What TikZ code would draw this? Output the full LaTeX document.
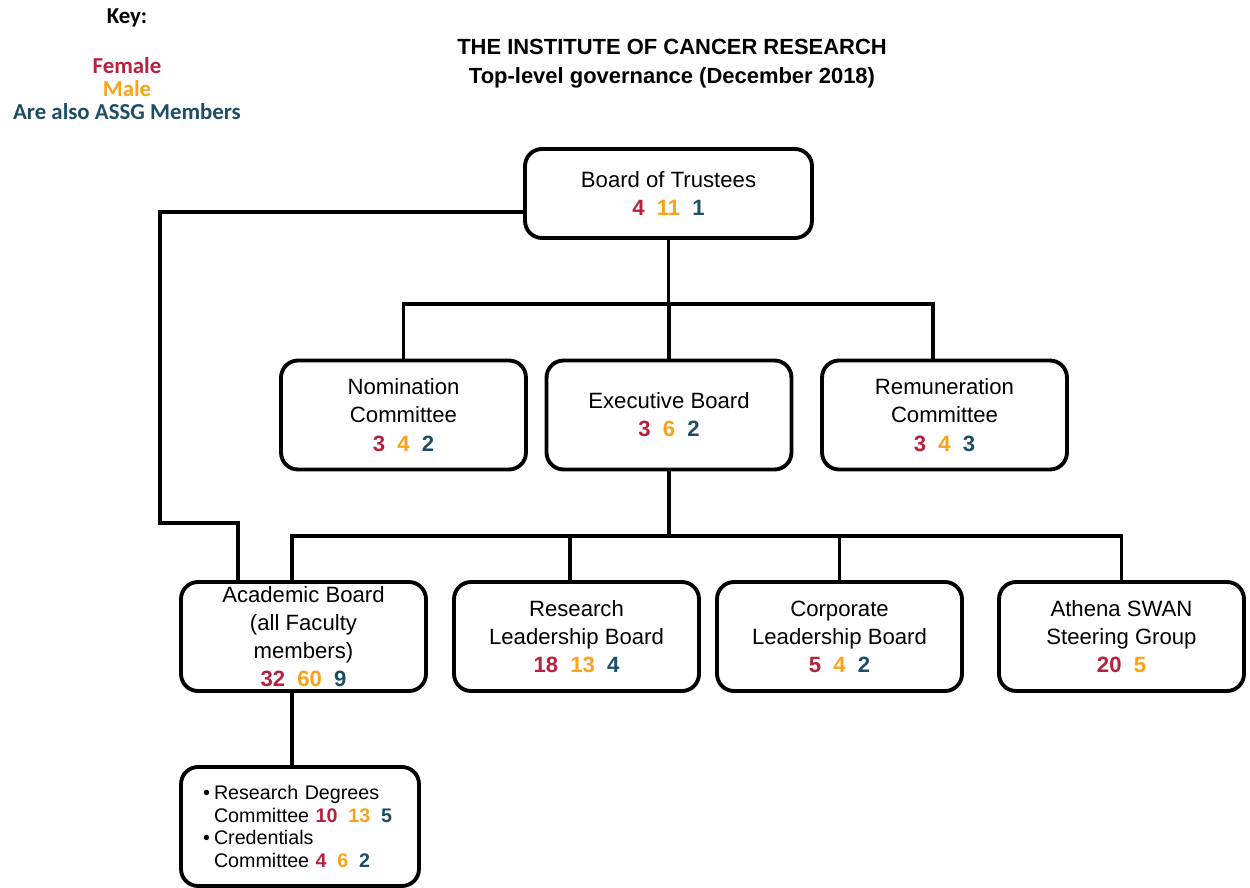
\documentclass[tikz,border=0pt]{standalone}
\usepackage{fontspec}
\setmainfont{Liberation Sans}
\newfontfamily\keyfont{Carlito}
\definecolor{fem}{HTML}{B5213F}
\definecolor{mal}{HTML}{F8A31B}
\definecolor{assg}{HTML}{1D4E66}
\newcommand{\nums}[3]{\textbf{\textcolor{fem}{#1}\hspace{0.55em}\textcolor{mal}{#2}\hspace{0.55em}\textcolor{assg}{#3}}}
\newcommand{\numstwo}[2]{\textbf{\textcolor{fem}{#1}\hspace{0.55em}\textcolor{mal}{#2}}}
\begin{document}
\begin{tikzpicture}[x=0.02cm,y=-0.02cm,
  box/.style={draw,line width=2.2pt,rounded corners=0.34cm,minimum width=4.9cm,minimum height=2.18cm,align=center,inner sep=0pt,font=\fontsize{12.6}{16}\selectfont},
  conn/.style={line width=2.2pt},
  keytxt/.style={font=\keyfont\bfseries\fontsize{13}{13}\selectfont,inner sep=0pt}]
\useasboundingbox (0,0) rectangle (1250,888);

% key
\node[keytxt] (key) at (127,18) {Key:};
\node[keytxt,text=fem] (kf) at (127,66) {Female};
\node[keytxt,text=mal] (km) at (127,89) {Male};
\node[keytxt,text=assg] (ka) at (127,112) {Are also ASSG Members};

% title
\node[font=\bfseries\fontsize{12.5}{16.5}\selectfont,align=center,inner sep=0pt] (title) at (672,63.5)
  {THE INSTITUTE OF CANCER RESEARCH\\Top-level governance (December 2018)};

% boxes
\node[box,minimum width=5.74cm,minimum height=1.78cm] (bot) at (668.5,193.5) {Board of Trustees\\\nums{4}{11}{1}};
\node[box] (nom) at (403.5,415) {Nomination\\Committee\\\nums{3}{4}{2}};
\node[box] (exec) at (669,415) {Executive Board\\\nums{3}{6}{2}};
\node[box] (rem) at (944.5,415) {Remuneration\\Committee\\\nums{3}{4}{3}};
\node[box] (acad) at (303.5,636.5) {Academic Board\\(all Faculty\\members)\\\nums{32}{60}{9}};
\node[box] (rlb) at (576.5,636.5) {Research\\Leadership Board\\\nums{18}{13}{4}};
\node[box] (clb) at (839.5,636.5) {Corporate\\Leadership Board\\\nums{5}{4}{2}};
\node[box] (ath) at (1121.5,636.5) {Athena SWAN\\Steering Group\\\numstwo{20}{5}};
\node[box,minimum width=4.76cm,minimum height=2.38cm,inner xsep=0.44cm,text width=3.88cm,align=left,font=\fontsize{11.2}{13}\selectfont] (sub) at (300,826.5)
  {\makebox[0.22cm][l]{•}Research Degrees\\\hspace*{0.22cm}Committee \nums{10}{13}{5}\\
   \makebox[0.22cm][l]{•}Credentials\\\hspace*{0.22cm}Committee \nums{4}{6}{2}};

% connectors
\coordinate (b1) at (668,304);
\coordinate (b2) at (668,536);
\coordinate (lc) at (160,523);
\coordinate (remtop) at ([xshift=-0.23cm]rem.north);
\coordinate (acadtop) at ([xshift=-0.23cm]acad.north);
\coordinate (acadleft) at ([xshift=-1.31cm]acad.north);
\coordinate (acadbot) at ([xshift=-0.23cm]acad.south);
\coordinate (rlbtop) at ([xshift=-0.13cm]rlb.north);

\draw[conn] (bot.south) -- (bot.south |- b1);
\draw[conn] (nom.north) |- (remtop |- b1) -- (remtop);
\draw[conn] (exec.north) -- (exec.north |- b1);

\draw[conn] (exec.south) -- (exec.south |- b2);
\draw[conn] (acadtop) |- (ath.north |- b2) -- (ath.north);
\draw[conn] (rlbtop) -- (rlbtop |- b2);
\draw[conn] (clb.north) -- (clb.north |- b2);

\draw[conn] ([yshift=-0.37cm]bot.west) -| (lc) -| (acadleft);
\draw[conn] (acadbot) -- (acadbot |- sub.north);
\end{tikzpicture}
\end{document}
